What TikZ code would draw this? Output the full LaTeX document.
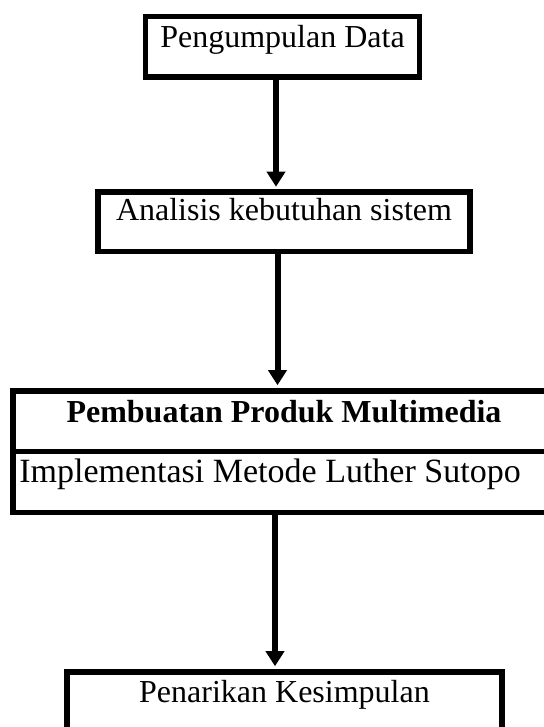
\documentclass[tikz,border=0pt]{standalone}
\usepackage{fontspec}
\setmainfont{Liberation Serif}
\usetikzlibrary{arrows.meta}
\begin{document}
\begin{tikzpicture}[x=0.5pt,y=-0.5pt,
  box/.style={draw,line width=2.75pt,inner sep=0pt,anchor=north,
    font=\fontsize{16pt}{19pt}\selectfont},
  flow/.style={line width=3pt,-{Triangle[width=9pt,length=7.5pt]},shorten >=1.4pt}]
\useasboundingbox (0,0) rectangle (544,727);
\node[box,minimum width=137pt,text height=15.5pt,text depth=14.75pt] (data) at (282.5,14) {Pengumpulan Data};
\node[box,minimum width=186pt,text height=14.25pt,text depth=15.25pt] (analisis) at (284,189.5) {Analisis kebutuhan sistem};
\node[box,minimum width=267.5pt,text height=16pt,text depth=14.25pt] (multimedia) at (280.5,388) {\hspace*{3.5pt}\textbf{Pembuatan Produk Multimedia}};
\node[box,minimum width=267.5pt,text height=15.75pt,text depth=14.75pt,font=\fontsize{17pt}{20pt}\selectfont] (luther) at (280.5,448.5) {Implementasi Metode Luther Sutopo\hspace*{10.5pt}};
\node[box,minimum width=217.5pt,text height=15.5pt,text depth=22.5pt] (kesimpulan) at (284.5,669) {Penarikan Kesimpulan};
\draw[flow] ([xshift=-3.25pt]data.south) -- ([xshift=-4pt]analisis.north);
\draw[flow] ([xshift=-3.25pt]analisis.south) -- ([xshift=-1.5pt]multimedia.north);
\draw[flow] ([xshift=-2.75pt]luther.south) -- ([xshift=-4.75pt]kesimpulan.north);
\end{tikzpicture}
\end{document}
